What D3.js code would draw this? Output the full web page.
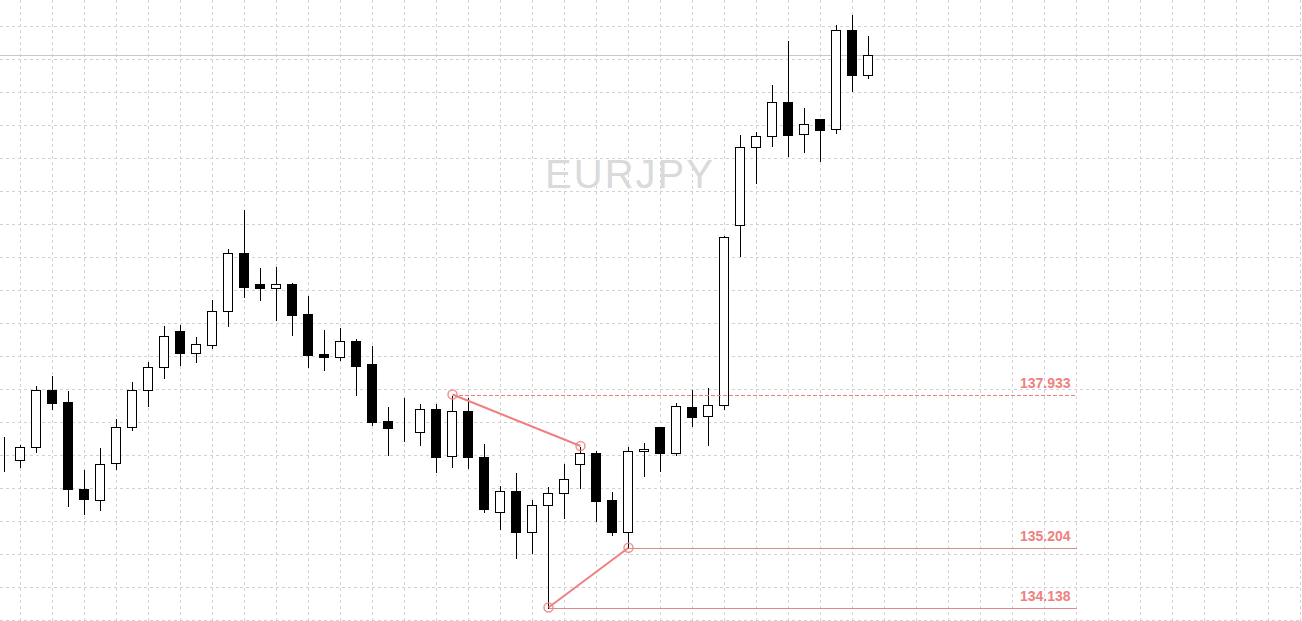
<!DOCTYPE html>
<html>
<head>
<meta charset="utf-8">
<script src="https://cdn.jsdelivr.net/npm/d3@7"></script>
<style>
  html, body { margin: 0; padding: 0; background: #fff; overflow: hidden; }
  svg { display: block; }
</style>
</head>
<body>
<div id="chart"></div>
<script>
// EURJPY candles (price units)
const symbol = 'EURJPY';
const open  = [136.712,136.766,136.997,138.013,137.799,136.249,136.053,136.712,137.354,138.013,
               138.423,139.064,138.672,138.815,139.420,140.454,139.901,139.830,139.901,139.367,
               138.654,138.601,138.886,138.476,137.461,137.354,137.265,137.674,136.837,137.639,
               136.819,135.839,136.213,135.483,135.964,136.178,136.694,136.890,136.053,135.483,
               136.926,137.354,136.890,137.710,137.550,137.746,140.952,142.342,142.538,143.144,
               142.574,142.841,142.663,144.427,143.625];
const high  = [137.193,137.051,138.102,138.280,138.013,136.605,136.997,137.514,138.173,138.529,
               139.171,139.189,138.975,139.634,140.543,141.237,140.204,140.222,139.937,139.705,
               139.100,139.135,138.939,138.815,137.728,137.888,137.781,137.781,137.933,137.888,
               137.069,136.320,136.552,136.071,136.302,136.712,137.015,136.944,136.213,137.015,
               137.086,137.354,137.799,138.031,138.066,140.774,142.574,142.627,143.465,144.248,
               143.055,142.859,144.533,144.712,144.337];
const low   = [136.570,136.641,136.908,137.674,135.946,135.804,135.875,136.605,137.300,137.728,
               138.227,138.458,138.512,138.761,139.153,139.670,139.616,139.260,138.993,138.423,
               138.369,138.547,137.924,137.389,136.855,137.104,137.033,136.552,136.641,136.623,
               135.839,135.536,135.020,135.109,134.138,135.732,136.267,135.679,135.429,135.204,
               136.481,136.570,136.855,137.371,137.033,137.674,140.400,141.701,142.360,142.182,
               142.253,142.093,142.591,143.340,143.571];
const close = [136.712,136.997,138.013,137.781,136.249,136.071,136.694,137.354,138.013,138.423,
               138.975,138.672,138.832,139.420,140.454,139.848,139.830,139.901,139.349,138.636,
               138.601,138.886,138.440,137.443,137.336,137.354,137.674,136.819,137.639,136.819,
               135.893,136.213,135.483,135.964,136.178,136.427,136.890,136.035,135.483,136.926,
               136.962,136.890,137.728,137.532,137.746,140.739,142.342,142.538,143.144,142.556,
               142.752,142.645,144.427,143.625,143.981];

// zigzag swing points: [bar index, price]
const swingHighs = [[28, 137.933], [36, 137.015]];
const swingLows  = [[34, 134.138], [39, 135.204]];
// price levels drawn to the right with labels
const levelPrices = [137.933, 135.204, 134.138];
const levelStart  = [28, 39, 34];
const levelDashed = [true, false, false];
const levelEnd = 67;

const width = 1302, height = 621;
const coral = '#f08080';

const x = d3.scaleLinear().domain([0, 1]).range([4.5, 20.5]);
const y = d3.scaleLinear().domain([133.898, 144.961]).range([621, 0]);
const py = v => Math.round(y(v)) + 0.5;

const svg = d3.select('#chart').append('svg')
  .attr('width', width)
  .attr('height', height)
  .attr('shape-rendering', 'crispEdges');

// grid
const grid = svg.append('g').attr('stroke', '#d2d2d2').attr('stroke-dasharray', '3,3');
grid.selectAll('.vg').data(d3.range(20, width, 32)).enter().append('line')
  .attr('x1', d => d + 0.5).attr('x2', d => d + 0.5)
  .attr('y1', 0).attr('y2', height);
grid.selectAll('.hg').data(d3.range(26, height, 33)).enter().append('line')
  .attr('x1', 0).attr('x2', width)
  .attr('y1', d => d + 0.5).attr('y2', d => d + 0.5);

// watermark
svg.append('text')
  .attr('x', 629).attr('y', 188)
  .attr('text-anchor', 'middle')
  .attr('font-family', 'Arial, "Liberation Sans", sans-serif')
  .attr('font-size', '40px')
  .attr('fill', '#dadada')
  .attr('textLength', 168)
  .text(symbol);

// bid line
svg.append('line')
  .attr('x1', 0).attr('x2', width)
  .attr('y1', py(close[close.length - 1])).attr('y2', py(close[close.length - 1]))
  .attr('stroke', '#c8c8c8');

// candles
const bars = d3.range(open.length);
const candle = svg.append('g').selectAll('g').data(bars).enter().append('g');
candle.append('line')
  .attr('x1', i => x(i)).attr('x2', i => x(i))
  .attr('y1', i => py(high[i])).attr('y2', i => py(low[i]))
  .attr('stroke', '#000');
candle.append('rect')
  .attr('x', i => x(i) - 5)
  .attr('width', 9)
  .attr('y', i => py(Math.max(open[i], close[i])))
  .attr('height', i => Math.max(0, py(Math.min(open[i], close[i])) - py(Math.max(open[i], close[i]))))
  .attr('fill', i => close[i] < open[i] ? '#000' : '#fff')
  .attr('stroke', '#000');

// levels
const lv = svg.append('g');
levelPrices.forEach((p, k) => {
  lv.append('line')
    .attr('x1', x(levelStart[k])).attr('x2', x(levelEnd))
    .attr('y1', py(p)).attr('y2', py(p))
    .attr('stroke', levelDashed[k] ? coral : '#d98c8c')
    .attr('stroke-dasharray', levelDashed[k] ? '4,2' : null);
  lv.append('text')
    .attr('x', x(levelEnd) - 6).attr('y', py(p) - 8)
    .attr('text-anchor', 'end')
    .attr('font-family', 'Arial, "Liberation Sans", sans-serif')
    .attr('font-size', '14px')
    .attr('font-weight', 'bold')
    .attr('fill', coral)
    .attr('shape-rendering', 'auto')
    .text(p.toFixed(3));
});

// zigzag
const zz = svg.append('g').attr('shape-rendering', 'auto');
[swingHighs, swingLows].forEach(pts => {
  zz.append('path')
    .attr('d', d3.line().x(d => x(d[0])).y(d => y(d[1]))(pts))
    .attr('fill', 'none')
    .attr('stroke', coral)
    .attr('stroke-width', 2);
  zz.selectAll(null).data(pts).enter().append('circle')
    .attr('cx', d => x(d[0])).attr('cy', d => y(d[1]))
    .attr('r', 4.5)
    .attr('fill', 'none')
    .attr('stroke', coral)
    .attr('stroke-opacity', 0.85)
    .attr('stroke-width', 1.5);
});
</script>
</body>
</html>
